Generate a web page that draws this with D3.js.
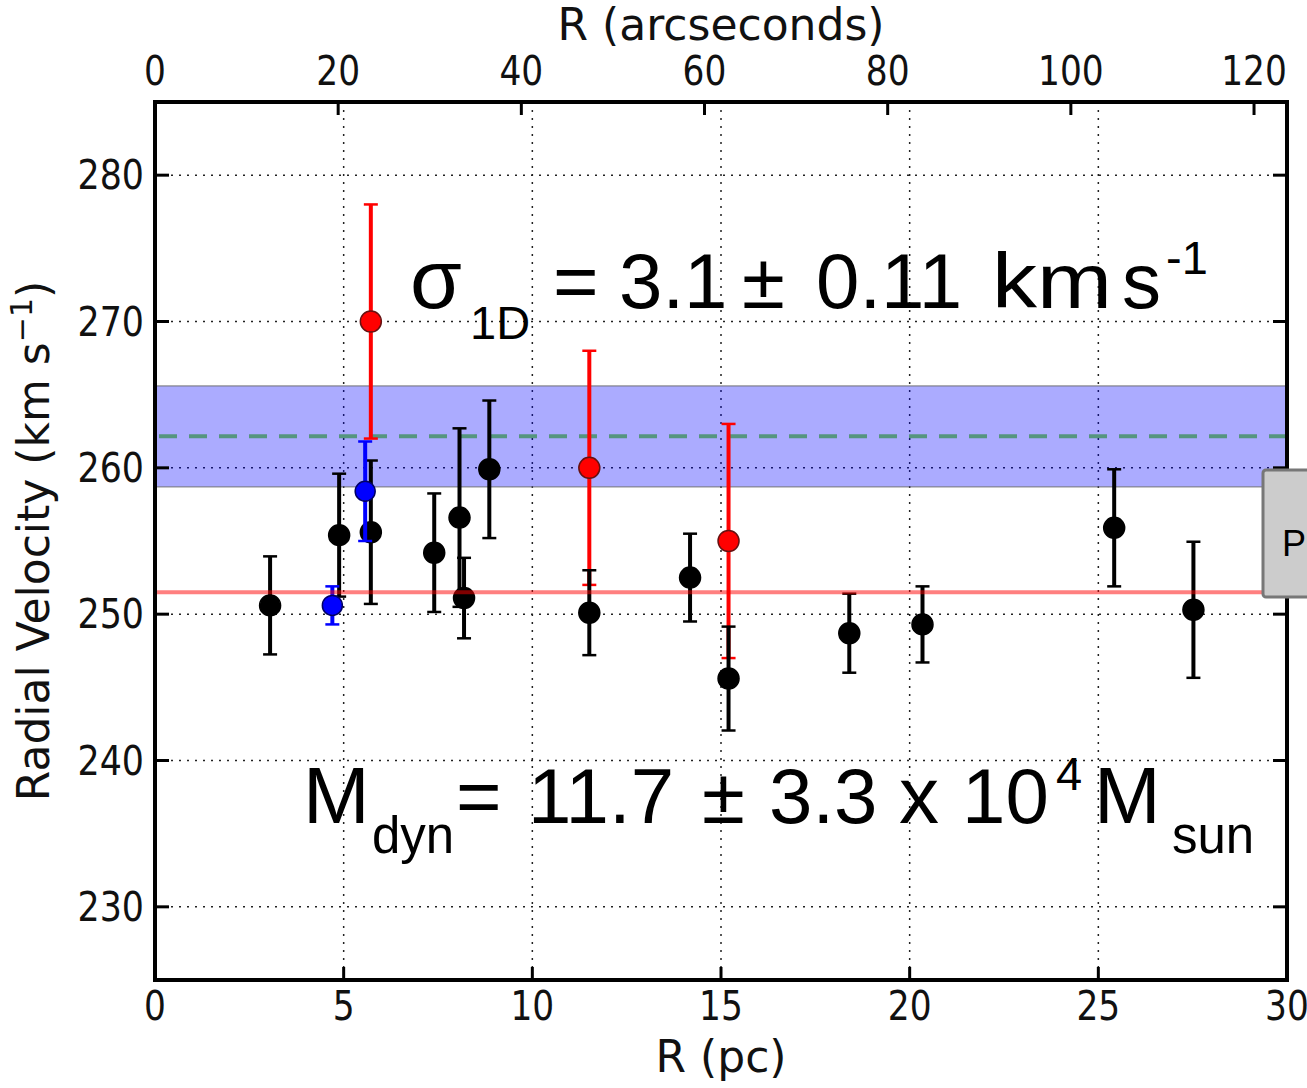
<!DOCTYPE html>
<html>
<head>
<meta charset="utf-8">
<script src="https://cdn.jsdelivr.net/npm/d3@7"></script>
<style>
  body { margin: 0; background: #fff; }
  svg { display: block; }
  .tick-label { font-family: "DejaVu Sans", sans-serif; font-size: 41px; fill: #111; }
  .axis-title { font-family: "DejaVu Sans", sans-serif; font-size: 44px; fill: #111; }
  .annot { font-family: "Liberation Sans", Arial, sans-serif; fill: #000; }
</style>
</head>
<body>
<svg id="chart"></svg>
<script>
// radial velocity data (R in pc, v in km/s, symmetric errors)
const blackR = [3.05, 4.88, 5.72, 7.40, 8.07, 8.19, 8.86, 11.51, 14.18, 15.20, 18.40, 20.34, 25.42, 27.52];
const blackV = [250.6, 255.4, 255.6, 254.2, 256.6, 251.1, 259.9, 250.1, 252.5, 245.6, 248.7, 249.3, 255.9, 250.3];
const blackErr = [3.35, 4.2, 4.9, 4.05, 6.1, 2.75, 4.7, 2.9, 3.0, 3.55, 2.7, 2.6, 4.0, 4.65];

const redR = [5.72, 11.51, 15.20];
const redV = [270, 260, 255];
const redErr = [8, 8, 8];

const blueR = [4.70, 5.57];
const blueV = [250.6, 258.4];
const blueErr = [1.3, 3.4];

const meanV = 251.5;          // red horizontal line
const bandCenter = 262.15;    // dashed line
const bandLow = 258.7, bandHigh = 265.6;

const pcTicks = [0, 5, 10, 15, 20, 25, 30];
const arcTicks = [0, 20, 40, 60, 80, 100, 120];
const vTicks = [230, 240, 250, 260, 270, 280];
const arcPerPc = 4.12;

const W = 1307, H = 1088;
const mLeft = 155, mRight = 1287, mTop = 102, mBottom = 980;

const svg = d3.select('#chart')
    .attr('width', W)
    .attr('height', H);

const x = d3.scaleLinear().domain([0, 30]).range([mLeft, mRight]);
const xArc = d3.scaleLinear().domain([0, 30 * arcPerPc]).range([mLeft, mRight]);
const y = d3.scaleLinear().domain([225, 285]).range([mBottom, mTop]);

// grid
const grid = svg.append('g').attr('class', 'grid');
grid.selectAll('.gx').data(pcTicks.slice(1, -1)).enter()
    .append('line')
    .attr('x1', d => x(d)).attr('x2', d => x(d))
    .attr('y1', mTop).attr('y2', mBottom)
    .attr('stroke', '#222').attr('stroke-width', 1.5)
    .attr('stroke-dasharray', '2,6');
grid.selectAll('.gy').data(vTicks).enter()
    .append('line')
    .attr('x1', mLeft).attr('x2', mRight)
    .attr('y1', d => y(d)).attr('y2', d => y(d))
    .attr('stroke', '#222').attr('stroke-width', 1.5)
    .attr('stroke-dasharray', '2,6');

// dispersion band
svg.append('rect')
    .attr('x', mLeft).attr('width', mRight - mLeft)
    .attr('y', y(bandHigh)).attr('height', y(bandLow) - y(bandHigh))
    .attr('fill', 'blue').attr('fill-opacity', 0.33)
    .attr('stroke', '#666').attr('stroke-opacity', 0.6).attr('stroke-width', 1.5);

svg.append('line')
    .attr('x1', mLeft + 4).attr('x2', mRight)
    .attr('y1', y(bandCenter)).attr('y2', y(bandCenter))
    .attr('stroke', 'green').attr('stroke-opacity', 0.5)
    .attr('stroke-width', 4).attr('stroke-dasharray', '18,12');

// error bars + markers
function drawSeries(rs, vs, errs, color, r, outline) {
    const data = rs.map((d, i) => ({ r: d, v: vs[i], e: errs[i] }));
    const g = svg.append('g');
    const bars = g.selectAll('.eb').data(data).enter().append('g');
    bars.append('line')
        .attr('x1', d => x(d.r)).attr('x2', d => x(d.r))
        .attr('y1', d => y(d.v + d.e)).attr('y2', d => y(d.v - d.e))
        .attr('stroke', color).attr('stroke-width', 4);
    [1, -1].forEach(s => {
        bars.append('line')
            .attr('x1', d => x(d.r) - 7).attr('x2', d => x(d.r) + 7)
            .attr('y1', d => y(d.v + s * d.e)).attr('y2', d => y(d.v + s * d.e))
            .attr('stroke', color).attr('stroke-width', 2.5);
    });
    g.selectAll('.pt').data(data).enter()
        .append('circle')
        .attr('cx', d => x(d.r)).attr('cy', d => y(d.v))
        .attr('r', r)
        .attr('fill', color)
        .attr('stroke', outline).attr('stroke-width', 1.5);
}
drawSeries(redR, redV, redErr, '#ff0000', 10.5, '#661111');
drawSeries(blackR, blackV, blackErr, '#000', 10.5, '#000');
drawSeries(blueR, blueV, blueErr, '#0000ff', 10, '#000066');

// mean line
svg.append('line')
    .attr('x1', mLeft).attr('x2', mRight)
    .attr('y1', y(meanV)).attr('y2', y(meanV))
    .attr('stroke', 'red').attr('stroke-opacity', 0.5).attr('stroke-width', 4);

// frame
svg.append('rect')
    .attr('x', mLeft).attr('y', mTop)
    .attr('width', mRight - mLeft).attr('height', mBottom - mTop)
    .attr('fill', 'none').attr('stroke', '#000').attr('stroke-width', 4);

// ticks
const ticks = svg.append('g').attr('stroke', '#000').attr('stroke-width', 3);
vTicks.forEach(v => {
    ticks.append('line').attr('x1', mLeft).attr('x2', mLeft + 14).attr('y1', y(v)).attr('y2', y(v));
    ticks.append('line').attr('x1', mRight - 14).attr('x2', mRight).attr('y1', y(v)).attr('y2', y(v));
});
pcTicks.forEach(p => {
    ticks.append('line').attr('x1', x(p)).attr('x2', x(p)).attr('y1', mBottom).attr('y2', mBottom - 13);
});
arcTicks.forEach(a => {
    ticks.append('line').attr('x1', xArc(a)).attr('x2', xArc(a)).attr('y1', mTop).attr('y2', mTop + 13);
});

// tick labels (slightly condensed, as in the reference)
svg.selectAll('.ylab').data(vTicks).enter()
    .append('text').attr('class', 'tick-label')
    .attr('transform', d => `translate(${mLeft - 11},${y(d)}) scale(0.85,1)`)
    .attr('text-anchor', 'end').attr('dominant-baseline', 'central')
    .text(d => d);
svg.selectAll('.xlab').data(pcTicks).enter()
    .append('text').attr('class', 'tick-label')
    .attr('transform', d => `translate(${x(d)},${mBottom + 40}) scale(0.84,1)`)
    .attr('text-anchor', 'middle')
    .text(d => d);
svg.selectAll('.alab').data(arcTicks).enter()
    .append('text').attr('class', 'tick-label')
    .attr('transform', d => `translate(${xArc(d)},${mTop - 17}) scale(0.84,1)`)
    .attr('text-anchor', 'middle')
    .text(d => d);

// axis titles
svg.append('text').attr('class', 'axis-title')
    .attr('x', (mLeft + mRight) / 2).attr('y', H - 16)
    .attr('text-anchor', 'middle').text('R (pc)');
svg.append('text').attr('class', 'axis-title')
    .attr('x', (mLeft + mRight) / 2).attr('y', 40)
    .attr('text-anchor', 'middle').text('R (arcseconds)');

const yt = svg.append('text').attr('class', 'axis-title')
    .attr('transform', `translate(49,${(mTop + mBottom) / 2}) rotate(-90)`)
    .attr('text-anchor', 'middle');
yt.append('tspan').text('Radial Velocity (km s');
yt.append('tspan').attr('dy', -17).attr('font-size', 30).text('\u22121');
yt.append('tspan').attr('dy', 17).text(')');

// annotations: each token placed where it sits in the original
const sigmaTokens = [
    { t: '\u03c3', x: 410, y: 308, s: 84 },
    { t: '1D', x: 470, y: 339, s: 47 },
    { t: '=', x: 553, y: 308, s: 78 },
    { t: '3.1', x: 619, y: 308, s: 78 },
    { t: '\u00b1', x: 742, y: 308, s: 78 },
    { t: '0.11', x: 816, y: 308, s: 78 },
    { t: 'km', x: 992, y: 308, s: 78, w: 120 },
    { t: 's', x: 1122, y: 308, s: 78 },
    { t: '-1', x: 1166, y: 274, s: 47 }
];
const massTokens = [
    { t: 'M', x: 303, y: 823, s: 80 },
    { t: 'dyn', x: 372, y: 853, s: 51 },
    { t: '=', x: 456, y: 823, s: 78 },
    { t: '11.7', x: 528, y: 823, s: 78 },
    { t: '\u00b1', x: 702, y: 823, s: 78 },
    { t: '3.3', x: 769, y: 823, s: 78 },
    { t: 'x', x: 899, y: 823, s: 80 },
    { t: '10', x: 962, y: 823, s: 78 },
    { t: '4', x: 1056, y: 790, s: 47 },
    { t: 'M', x: 1094, y: 823, s: 80 },
    { t: 'sun', x: 1172, y: 853, s: 51 }
];
[sigmaTokens, massTokens].forEach(tokens => {
    const sel = svg.append('g').selectAll('text').data(tokens).enter()
        .append('text').attr('class', 'annot')
        .attr('x', d => d.x).attr('y', d => d.y)
        .attr('font-size', d => d.s)
        .text(d => d.t);
    sel.filter(d => d.w)
        .attr('textLength', d => d.w)
        .attr('lengthAdjust', 'spacingAndGlyphs');
});

// clipped legend box at right edge
svg.append('rect')
    .attr('x', 1263).attr('y', 470).attr('width', 60).attr('height', 127)
    .attr('rx', 3)
    .attr('fill', '#cccccc').attr('stroke', '#777').attr('stroke-width', 3);
svg.append('text').attr('class', 'annot')
    .attr('x', 1282).attr('y', 556).attr('font-size', 36).text('P');
</script>
</body>
</html>
